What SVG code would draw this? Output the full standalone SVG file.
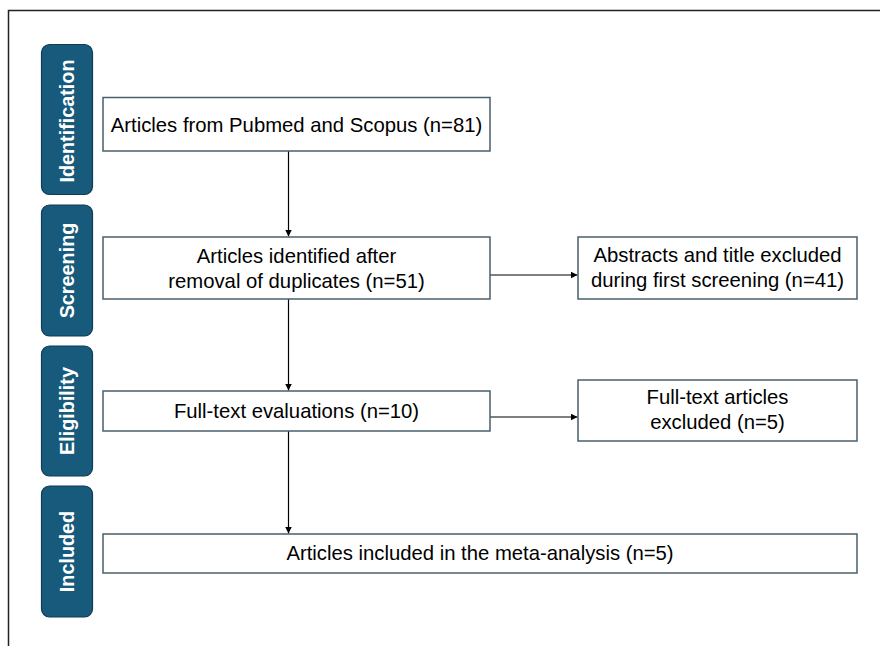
<svg xmlns="http://www.w3.org/2000/svg" width="880" height="646" viewBox="0 0 880 646">
<defs>
<marker id="ah" viewBox="0 0 10 10" refX="10" refY="5" markerWidth="7" markerHeight="7" markerUnits="userSpaceOnUse" orient="auto">
<path d="M0,0 L10,5 L0,10 Z" fill="#000"/>
</marker>
<style>
.stage{fill:#175a7c;stroke:#0f3d55;stroke-width:1.2}
.stxt{font-family:"Liberation Sans",Arial,sans-serif;font-size:19.8px;font-weight:bold;fill:#fff;text-anchor:middle}
.box{fill:#fff;stroke:#4a5f6e;stroke-width:1.5}
.txt{font-family:"Liberation Sans",Arial,sans-serif;font-size:20.3px;fill:#000;text-anchor:middle}
.con{stroke:#000;stroke-width:1.2;fill:none;marker-end:url(#ah)}
</style>
</defs>
<rect width="880" height="646" fill="#fff"/>
<path d="M8.5,646 V10.5 H880" fill="none" stroke="#222" stroke-width="1.5"/>
<g id="stage-identification"><rect class="stage" x="41.5" y="44.5" width="51" height="150" rx="8"/><text class="stxt" transform="translate(73.5,121) rotate(-90)">Identification</text></g>
<g id="stage-screening"><rect class="stage" x="41.5" y="205" width="51" height="131" rx="8"/><text class="stxt" transform="translate(73.5,270.5) rotate(-90)">Screening</text></g>
<g id="stage-eligibility"><rect class="stage" x="41.5" y="346" width="51" height="130" rx="8"/><text class="stxt" transform="translate(73.5,411) rotate(-90)">Eligibility</text></g>
<g id="stage-included"><rect class="stage" x="41.5" y="486" width="51" height="131" rx="8"/><text class="stxt" transform="translate(73.5,551.5) rotate(-90)">Included</text></g>
<g id="connectors">
<line class="con" x1="288.5" y1="151" x2="288.5" y2="236.5"/>
<line class="con" x1="288.5" y1="299" x2="288.5" y2="390.5"/>
<line class="con" x1="288.5" y1="431" x2="288.5" y2="533.5"/>
<line class="con" x1="490" y1="275" x2="577.5" y2="275"/>
<line class="con" x1="490" y1="417" x2="577.5" y2="417"/>
</g>
<g id="n1"><rect class="box" x="103" y="97.5" width="387" height="53.5"/><text class="txt" x="296.5" y="131.5">Articles from Pubmed and Scopus (n=81)</text></g>
<g id="n2"><rect class="box" x="103" y="237" width="387" height="62"/><text class="txt" x="296.5" y="262.5">Articles identified after</text><text class="txt" x="296.5" y="287.5">removal of duplicates (n=51)</text></g>
<g id="n3"><rect class="box" x="578" y="237" width="279" height="62"/><text class="txt" x="717.5" y="261.5">Abstracts and title excluded</text><text class="txt" x="717.5" y="286.5">during first screening (n=41)</text></g>
<g id="n4"><rect class="box" x="103" y="391" width="387" height="40"/><text class="txt" x="296.5" y="418">Full-text evaluations (n=10)</text></g>
<g id="n5"><rect class="box" x="578" y="380" width="279" height="61"/><text class="txt" x="717.5" y="404">Full-text articles</text><text class="txt" x="717.5" y="429">excluded (n=5)</text></g>
<g id="n6"><rect class="box" x="103" y="534" width="754" height="39"/><text class="txt" x="480" y="560">Articles included in the meta-analysis (n=5)</text></g>
</svg>
